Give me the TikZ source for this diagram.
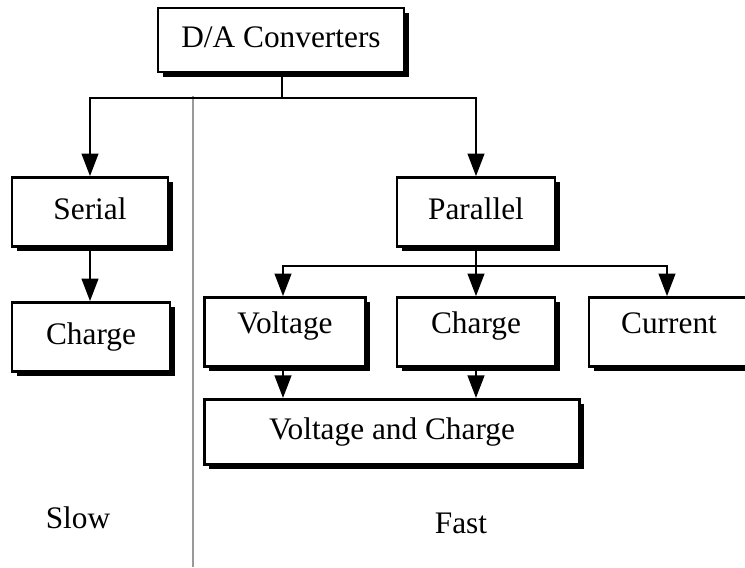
\documentclass[tikz,border=0pt]{standalone}
\usepackage{fontspec}
\setmainfont{Liberation Serif}
\usepackage{xcolor}
\usetikzlibrary{arrows.meta,shadows}

\begin{document}
\begin{tikzpicture}[x=0.75pt, y=-0.75pt,
    every node/.style={font=\fontsize{23.5}{28}\selectfont},
    box/.style={draw, line width=2pt, fill=white, inner sep=0pt,
      minimum height=51.75pt, text height=17pt, text depth=5.8pt,
      drop shadow={shadow xshift=3.6pt, shadow yshift=-3.6pt, fill=black, opacity=1}},
    uptext/.style={text height=17pt, text depth=15.5pt},
    link/.style={line width=1.8pt},
    arr/.style={link, -{Triangle[length=17pt, width=12.5pt]}},
    divider/.style={line width=2pt, color=black!40}]
  \path[use as bounding box, clip] (0,0) rectangle (745,567);

  \draw[divider] (193,96) -- (193,567);

  \node[box, minimum width=184.5pt, minimum height=48pt] (conv) at (281,40) {D/A Converters};
  \node[box, minimum width=117pt] (serial) at (90,212) {Serial};
  \node[box, minimum width=118.5pt] (chargeS) at (91,337) {Charge};
  \node[box, minimum width=118.5pt] (parallel) at (476,212) {Parallel};
  \node[box, uptext, minimum width=120.75pt] (volt) at (285,332) {Voltage};
  \node[box, uptext, minimum width=118.5pt] (chargeP) at (476,332) {Charge};
  \node[box, uptext, minimum width=120pt] (current) at (669,332) {Current};
  \node[box, minimum width=281.25pt, minimum height=49pt] (both) at (392,432) {Voltage and Charge};

  \coordinate (top) at (282,98);
  \coordinate (mid) at (476,266);

  \draw[link] ([xshift=0.75pt]conv.south) -- (top);
  \draw[arr] (top) -| (serial.north);
  \draw[arr] (top) -| (parallel.north);
  \draw[arr] (serial.south) -- (serial.south |- chargeS.north);

  \draw[link] (parallel.south) -- (mid);
  \draw[arr] (mid) -| ([xshift=-1.5pt]volt.north);
  \draw[arr] (mid) -- (chargeP.north);
  \draw[arr] (mid) -| ([xshift=-1.5pt]current.north);

  \draw[arr] ([xshift=-1.5pt]volt.south) -- ([xshift=-1.5pt]volt.south |- both.north);
  \draw[arr] (chargeP.south) -- (chargeP.south |- both.north);

  \node (slow) at (78,518) {Slow};
  \node (fast) at (461,523) {Fast};
\end{tikzpicture}
\end{document}
